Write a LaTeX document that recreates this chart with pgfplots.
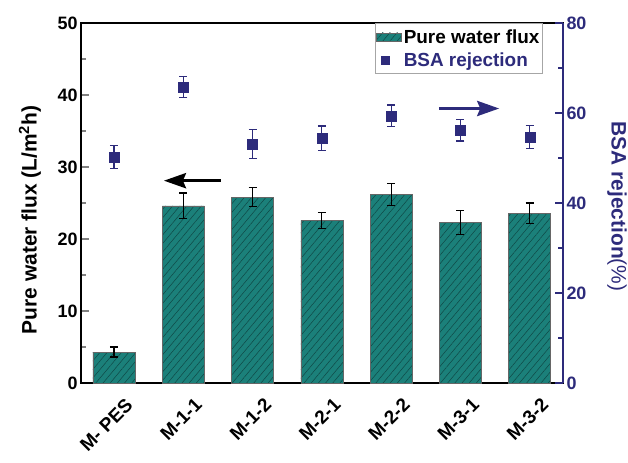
\documentclass[border=0pt]{standalone}
\usepackage{pgfplots}
\pgfplotsset{compat=1.18}
\usepackage{pgfplotstable}
\usepackage{fontspec}
\setmainfont{Liberation Sans}
\usetikzlibrary{patterns.meta, arrows.meta}

\definecolor{barteal}{RGB}{27,128,122}
\definecolor{hatch}{RGB}{16,72,70}
\definecolor{navy}{RGB}{45,43,123}

% flux (L/m2h) with error
\pgfplotstableread{
x flux ferr
0 4.3 0.7
1 24.6 1.8
2 25.8 1.3
3 22.6 1.1
4 26.2 1.5
5 22.3 1.65
6 23.6 1.4
}\fluxdata

% BSA rejection (%) with error
\pgfplotstableread{
x bsa berr
0 50.2 2.6
1 65.8 2.3
2 53.1 3.2
3 54.4 2.7
4 59.4 2.4
5 56.2 2.4
6 54.7 2.5
}\bsadata

\tikzset{
  hatched/.style={fill=barteal, draw=black!60, line width=0.6bp,
    postaction={pattern={Lines[angle=50, distance=5.5bp, line width=0.5bp]}, pattern color=hatch}},
}
\pgfplotsset{
  common/.style={
    scale only axis, width=482bp, height=360bp,
    xmin=-0.476, xmax=6.48,
    at={(0,0)}, anchor=south west,
    /pgf/number format/assume math mode=true,
    ticklabel style={font=\fontsize{18}{21}\selectfont\bfseries},
    label style={font=\fontsize{21}{24}\selectfont\bfseries},
    axis line style={line width=2.5bp},
    major tick length=8bp, minor tick length=5bp,
    tick align=inside,
    tick style={line width=2bp},
  },
}

\begin{document}
\begin{tikzpicture}
\begin{axis}[common,
  ymin=0, ymax=50, ytick={0,10,...,50}, minor y tick num=1,
  ytick pos=left,
  xtick={0,...,6},
  xticklabels={M- PES,M-1-1,M-1-2,M-2-1,M-2-2,M-3-1,M-3-2},
  x tick label style={rotate=45, anchor=north east, xshift=1bp, yshift=-14bp,
    font=\fontsize{19}{22}\selectfont\bfseries},
  xtick style={draw=none},
  ylabel={Pure water flux (L/m\textsuperscript{2}h)},
  ylabel style={at={(axis description cs:-0.106,0.453)}, anchor=center},
]
\addplot[ybar, bar width=0.606, hatched] table[x=x, y=flux] {\fluxdata};
\addplot[draw=none, forget plot,
  error bars/.cd, y dir=both, y explicit,
  error bar style={draw=black, line width=1.2bp},
  error mark options={draw=black, rotate=90, mark size=4bp, line width=1.2bp}]
  table[x=x, y=flux, y error=ferr] {\fluxdata};
\draw[line width=3.5bp, -{Stealth[length=22bp, width=15bp, inset=3bp]}]
  (axis cs:1.54,28.1) -- (axis cs:0.72,28.1);
\end{axis}

\begin{axis}[common,
  axis x line=none, axis y line*=right,
  ymin=0, ymax=80, ytick={0,20,...,80}, minor y tick num=1,
  y axis line style={navy},
  ytick style={navy},
  yticklabel style={navy},
  ylabel={\textcolor{navy}{BSA rejection{\mdseries(\%)}}},
  ylabel style={at={(axis description cs:1.112,0.49)}, anchor=center, rotate=180},
  legend style={at={(rel axis cs:0.958,1)}, anchor=north east,
    draw=black!35, line width=0.6bp, fill=white,
    font=\fontsize{19}{22}\selectfont\bfseries,
    cells={anchor=west}, row sep=4bp, inner xsep=1bp, inner ysep=4bp},
]
\addlegendimage{legend image code/.code={
  \draw[hatched] (0bp,-4bp) rectangle (25bp,4bp);}}
\addlegendentry{Pure water flux}
\addlegendimage{navy, only marks, mark=square*, mark size=4bp}
\addlegendentry{\textcolor{navy}{BSA rejection}}
\addplot[navy, only marks, mark=square*, mark size=5bp, forget plot,
  error bars/.cd, y dir=both, y explicit,
  error bar style={navy, line width=1.2bp},
  error mark options={navy, rotate=90, mark size=4bp, line width=1.2bp}]
  table[x=x, y=bsa, y error=berr] {\bsadata};
\draw[navy, line width=3.5bp, -{Stealth[length=22bp, width=15bp, inset=3bp]}]
  (axis cs:4.69,61) -- (axis cs:5.56,61);
\end{axis}
\pgfresetboundingbox
\path[use as bounding box] (-81bp,-80bp) rectangle (547bp,383bp);
\end{tikzpicture}
\end{document}
